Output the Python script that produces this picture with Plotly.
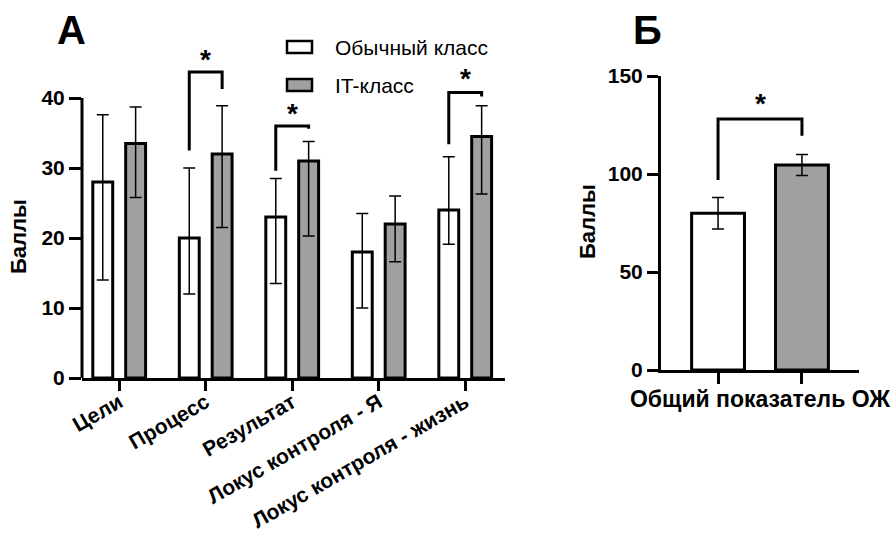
import plotly.graph_objects as go

# ---------------- data ----------------
categories_A = ["Цели", "Процесс", "Результат", "Локус контроля - Я", "Локус контроля - жизнь"]
usual_mean = [28.0, 20.0, 23.0, 18.0, 24.0]
usual_upper = [37.6, 30.0, 28.5, 23.5, 31.6]
usual_lower = [14.0, 12.0, 13.5, 10.0, 19.1]
it_mean = [33.5, 32.0, 31.0, 22.0, 34.5]
it_upper = [38.7, 38.9, 33.8, 26.0, 38.9]
it_lower = [25.8, 21.5, 20.3, 16.6, 26.3]

# significance brackets (panel A)
sig_idx = [1, 2, 4]
sig_left_bottom = [32.5, 29.6, 33.4]
sig_top = [43.7, 36.0, 40.8]
sig_right_bottom = [41.3, 35.6, 40.2]
sig_star = [46.1, 38.4, 43.3]

yticks_A = [0, 10, 20, 30, 40]

# panel B
label_B = "Общий показатель ОЖ"
usual_B = 80.0
usual_B_upper = 88.0
usual_B_lower = 72.0
it_B = 104.6
it_B_upper = 110.0
it_B_lower = 99.2
sigB_left_bottom = 97.0
sigB_top = 128.0
sigB_right_bottom = 119.5
sigB_star = 138.0
yticks_B = [0, 50, 100, 150]

series_names = ["Обычный класс", "IT-класс"]
y_title = "Баллы"

# ---------------- style ----------------
FONT = "Liberation Sans, Arial, sans-serif"
WHITE = "#ffffff"
GRAY = "#a0a0a0"
BW_A = 0.23
HALF = 0.19
BW_B = 0.63
W, H = 896, 538


def px(x):
    return x / W


def py(y):
    return 1 - y / H


fig = go.Figure()
idx = list(range(len(categories_A)))


def err(mean, up, lo):
    return dict(type="data", symmetric=False,
                array=[u - m for u, m in zip(up, mean)],
                arrayminus=[m - l for m, l in zip(mean, lo)],
                color="black", thickness=1.5, width=6)


fig.add_trace(go.Bar(
    x=idx, y=usual_mean, width=BW_A, offset=-HALF - BW_A / 2,
    marker=dict(color=WHITE, line=dict(color="black", width=3)),
    error_y=err(usual_mean, usual_upper, usual_lower),
    name=series_names[0], showlegend=False, xaxis="x", yaxis="y"))
fig.add_trace(go.Bar(
    x=idx, y=it_mean, width=BW_A, offset=HALF - BW_A / 2,
    marker=dict(color=GRAY, line=dict(color="black", width=3)),
    error_y=err(it_mean, it_upper, it_lower),
    name=series_names[1], showlegend=False, xaxis="x", yaxis="y"))

# brackets A
for i, lb, tp, rb in zip(sig_idx, sig_left_bottom, sig_top, sig_right_bottom):
    fig.add_trace(go.Scatter(
        x=[i - HALF, i - HALF, i + HALF, i + HALF], y=[lb, tp, tp, rb],
        mode="lines", line=dict(color="black", width=3),
        showlegend=False, hoverinfo="skip", xaxis="x", yaxis="y"))

# panel B bars
fig.add_trace(go.Bar(
    x=[0], y=[usual_B], width=BW_B,
    marker=dict(color=WHITE, line=dict(color="black", width=3)),
    error_y=err([usual_B], [usual_B_upper], [usual_B_lower]),
    name=series_names[0], showlegend=False, xaxis="x2", yaxis="y2"))
fig.add_trace(go.Bar(
    x=[1], y=[it_B], width=BW_B,
    marker=dict(color=GRAY, line=dict(color="black", width=3)),
    error_y=err([it_B], [it_B_upper], [it_B_lower]),
    name=series_names[1], showlegend=False, xaxis="x2", yaxis="y2"))
fig.add_trace(go.Scatter(
    x=[0, 0, 1, 1], y=[sigB_left_bottom, sigB_top, sigB_top, sigB_right_bottom],
    mode="lines", line=dict(color="black", width=3),
    showlegend=False, hoverinfo="skip", xaxis="x2", yaxis="y2"))

bold = lambda s: dict(family=FONT, size=s, color="black", weight="bold")

annotations = []
for i, sy in zip(sig_idx, sig_star):
    annotations.append(dict(x=i, y=sy, xref="x", yref="y", text="*", showarrow=False,
                            yshift=-4, font=bold(28)))
annotations.append(dict(x=0.5, y=sigB_star, xref="x2", yref="y2", text="*", showarrow=False,
                        yshift=-4, font=bold(28)))
# panel letters
annotations.append(dict(x=px(71), y=py(30), xref="paper", yref="paper", text="А",
                        showarrow=False, xanchor="center", yanchor="middle", font=bold(40)))
annotations.append(dict(x=px(647), y=py(30), xref="paper", yref="paper", text="Б",
                        showarrow=False, xanchor="center", yanchor="middle", font=bold(40)))
# y titles
annotations.append(dict(x=px(18), y=py(237), xref="paper", yref="paper", text=y_title,
                        textangle=-90, showarrow=False, xanchor="center", yanchor="middle",
                        font=bold(22)))
annotations.append(dict(x=px(587), y=py(222), xref="paper", yref="paper", text=y_title,
                        textangle=-90, showarrow=False, xanchor="center", yanchor="middle",
                        font=bold(22)))

# custom legend (wide box icons)
legend_rows = [47, 85]
legend_fill = [WHITE, GRAY]
shapes = [dict(type="line", xref="x domain", yref="y", x0=0, x1=0,
               y0=yticks_A[0], y1=yticks_A[-1], line=dict(color="black", width=3))]
for name, row, fill in zip(series_names, legend_rows, legend_fill):
    shapes.append(dict(type="rect", xref="paper", yref="paper",
                       x0=px(287), x1=px(312), y0=py(row - 6), y1=py(row + 6),
                       fillcolor=fill, line=dict(color="black", width=2.5)))
    annotations.append(dict(x=px(333), y=py(row), xref="paper", yref="paper", text=name,
                            showarrow=False, xanchor="left", yanchor="middle",
                            font=dict(family=FONT, size=21, color="black")))

fig.update_layout(
    width=W, height=H,
    margin=dict(l=0, r=0, t=0, b=0),
    paper_bgcolor="white", plot_bgcolor="white",
    barmode="overlay",
    showlegend=False,
    xaxis=dict(domain=[px(82), px(505)], anchor="y", range=[-0.43, 4.46],
               tickvals=idx, ticktext=categories_A, tickangle=-30,
               ticks="outside", ticklen=10, tickwidth=3, tickcolor="black",
               ticklabelstandoff=-9,
               showline=True, linewidth=3, linecolor="black",
               showgrid=False, zeroline=False, automargin=False,
               tickfont=bold(21)),
    yaxis=dict(domain=[1 - 378 / H, 1 - 49 / H], anchor="x", range=[0, 47],
               tickvals=yticks_A, ticks="outside", ticklen=12, tickwidth=3, tickcolor="black",
               showline=False, showgrid=False, zeroline=False, automargin=False,
               tickfont=bold(21)),
    xaxis2=dict(domain=[px(661), px(859)], anchor="y2", range=[-0.68, 1.68],
                tickvals=[0, 1], ticktext=["", ""],
                ticks="outside", ticklen=11, tickwidth=3, tickcolor="black",
                showline=True, linewidth=3, linecolor="black",
                showgrid=False, zeroline=False, automargin=False,
                title=dict(text=label_B, standoff=6, font=bold(23))),
    yaxis2=dict(domain=[1 - 370 / H, 1 - 76 / H], anchor="x2", range=[0, 150],
                tickvals=yticks_B, ticks="outside", ticklen=11, tickwidth=3, tickcolor="black",
                showline=True, linewidth=3, linecolor="black",
                showgrid=False, zeroline=False, automargin=False,
                tickfont=bold(21)),
    annotations=annotations,
    shapes=shapes,
)

fig.write_html("out.html", config={"displayModeBar": False},
               post_script="document.body.style.margin='0px';")
